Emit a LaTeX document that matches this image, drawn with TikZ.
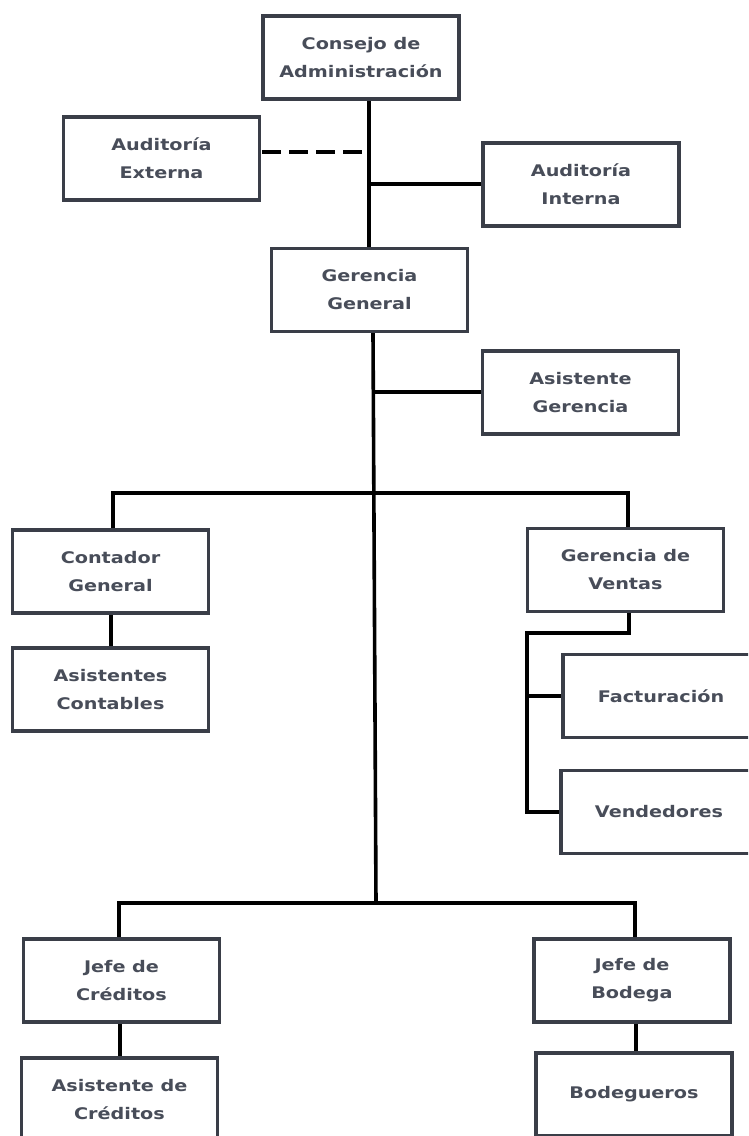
\documentclass[tikz,border=0pt]{standalone}
\usepackage{fontspec}
\setmainfont{DejaVu Sans}
\definecolor{boxline}{RGB}{58,62,72}
\definecolor{txt}{RGB}{72,77,89}
\newcommand\ww[1]{\scalebox{1.2}[1]{#1}}
\tikzset{
  x=1pt, y=-1pt,
  orgbox/.style={draw=boxline, line width=3.8pt, fill=white, minimum width=196pt, minimum height=83pt,
    inner sep=0pt, align=center, text=txt, font=\fontsize{16}{28}\selectfont\bfseries},
  conn/.style={draw=black, line width=3.6pt},
  dconn/.style={draw=black, line width=3.6pt, dash pattern=on 19pt off 8pt}
}
\begin{document}
\begin{tikzpicture}
\useasboundingbox (0,0) rectangle (748,1136);
\clip (0,0) rectangle (748,1136);
\fill[white] (0,0) rectangle (748,1136);

% connector coordinates
\coordinate (t1) at (369,101);
\coordinate (t2) at (369,247);
\coordinate (d1) at (365,152);
\coordinate (i1) at (371,184);
\coordinate (g1) at (373,333);
\coordinate (a1) at (373,392);
\coordinate (mbl) at (113,493);
\coordinate (mbr) at (628,493);
\coordinate (bb) at (376,903);
\coordinate (bbl) at (119,903);
\coordinate (bbr) at (635,903);
\coordinate (v1) at (629,633);
\coordinate (v2) at (527,633);
\coordinate (v3) at (527,696);
\coordinate (v4) at (527,812);

% connectors (drawn first, boxes on top)
\draw[conn] (t1) -- (t2);
\draw[conn] (i1) -- (483,184);
\draw[dconn] (262,152) -- (d1);
\draw[conn] (g1) -- (bb);
\draw[conn] (a1) -- (482,392);
\draw[conn] (113,528) -- (mbl) -- (mbr) -- (628,527);
\draw[conn] (111,613) -- (111,646);
\draw[conn] (629,612) -- (v1) -- (v2) -- (v4) -- (560,812);
\draw[conn] (v3) -- (562,696);
\draw[conn] (119,937) -- (bbl) -- (bbr) -- (635,937);
\draw[conn] (120,1022) -- (120,1056);
\draw[conn] (636,1022) -- (636,1051);

% boxes
\node[orgbox] (consejo) at (361,57.5) {\ww{Consejo de}\\\ww{Administración}};
\node[orgbox] (ext) at (161.5,158.5) {\ww{Auditoría}\\\ww{Externa}};
\node[orgbox] (int) at (581,184.5) {\ww{Auditoría}\\\ww{Interna}};
\node[orgbox] (gg) at (369.5,290) {\ww{Gerencia}\\\ww{General}};
\node[orgbox] (asg) at (580.5,392.5) {\ww{Asistente}\\\ww{Gerencia}};
\node[orgbox] (cont) at (110.5,571.5) {\ww{Contador}\\\ww{General}};
\node[orgbox] (asc) at (110.5,689.5) {\ww{Asistentes}\\\ww{Contables}};
\node[orgbox] (gv) at (625.5,570) {\ww{Gerencia de}\\\ww{Ventas}};
\node[orgbox] (fac) at (661,696) {\ww{Facturación}};
\node[orgbox] (ven) at (659,812) {\ww{Vendedores}};
\node[orgbox] (jc) at (121.5,980.5) {\ww{Jefe de}\\\ww{Créditos}};
\node[orgbox] (ac) at (119.5,1099.5) {\ww{Asistente de}\\\ww{Créditos}};
\node[orgbox] (jb) at (632,980.5) {\ww{Jefe de}\\\ww{Bodega}};
\node[orgbox] (bod) at (634,1094.5) {\ww{Bodegueros}};
\end{tikzpicture}
\end{document}
